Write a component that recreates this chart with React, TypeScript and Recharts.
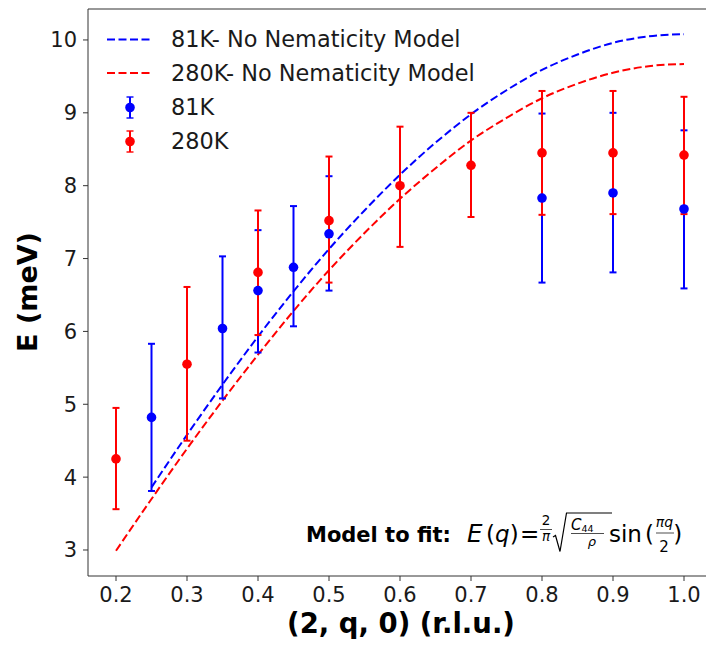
import React from 'react'
import { ComposedChart, Line, Scatter, ErrorBar, XAxis, YAxis, ReferenceLine } from 'recharts'

// model curves (no nematicity)
const model81Q = [0.25, 0.3, 0.35, 0.4, 0.45, 0.5, 0.55, 0.6, 0.65, 0.7, 0.75, 0.8, 0.85, 0.9, 0.95, 1.0]
const model81E = [3.86, 4.58, 5.27, 5.93, 6.55, 7.13, 7.66, 8.15, 8.59, 8.98, 9.31, 9.59, 9.8, 9.96, 10.05, 10.08]
const model280Q = [0.2, 0.25, 0.3, 0.35, 0.4, 0.45, 0.5, 0.55, 0.6, 0.65, 0.7, 0.75, 0.8, 0.85, 0.9, 0.95, 1.0]
const model280E = [2.99, 3.7, 4.39, 5.05, 5.68, 6.28, 6.84, 7.35, 7.82, 8.24, 8.62, 8.93, 9.2, 9.4, 9.55, 9.64, 9.67]

// measured points with error bounds
const pts81Q = [0.25, 0.35, 0.4, 0.45, 0.5, 0.8, 0.9, 1.0]
const pts81E = [4.82, 6.04, 6.56, 6.88, 7.34, 7.83, 7.9, 7.68]
const pts81Lo = [3.81, 5.08, 5.71, 6.07, 6.56, 6.67, 6.81, 6.59]
const pts81Hi = [5.83, 7.03, 7.39, 7.72, 8.13, 8.99, 9.0, 8.76]

const pts280Q = [0.2, 0.3, 0.4, 0.5, 0.6, 0.7, 0.8, 0.9, 1.0]
const pts280E = [4.25, 5.55, 6.81, 7.52, 8.0, 8.28, 8.45, 8.45, 8.42]
const pts280Lo = [3.56, 4.5, 5.95, 6.67, 7.16, 7.57, 7.6, 7.61, 7.61]
const pts280Hi = [4.95, 6.61, 7.66, 8.4, 8.81, 9.0, 9.3, 9.3, 9.22]

const xTicks = [0.2, 0.3, 0.4, 0.5, 0.6, 0.7, 0.8, 0.9, 1.0]
const yTicks = [3, 4, 5, 6, 7, 8, 9, 10]

const X_DOMAIN = [0.160563, 1.040845]
const Y_DOMAIN = [2.643, 10.425]
const FONT = 'DejaVu Sans'
const BLUE = '#0000ff'
const RED = '#ff0000'
const AXIS = '#333333'

const curve = (qs: number[], es: number[]) => qs.map((q, i) => ({ q, E: es[i] }))
const points = (qs: number[], es: number[], lo: number[], hi: number[]) =>
    qs.map((q, i) => ({ q, E: es[i], err: [es[i] - lo[i], hi[i] - es[i]] }))

const model81 = curve(model81Q, model81E)
const model280 = curve(model280Q, model280E)
const data81 = points(pts81Q, pts81E, pts81Lo, pts81Hi)
const data280 = points(pts280Q, pts280E, pts280Lo, pts280Hi)

const dot = (color: string) => (p: any) => <circle cx={p.cx} cy={p.cy} r={4.8} fill={color} />

const LegendMarker = ({ y, color }: { y: number; color: string }) => (
    <g stroke={color}>
        <line x1={130} x2={130} y1={y - 10.5} y2={y + 10.5} strokeWidth={2} />
        <line x1={126.5} x2={133.5} y1={y - 10.5} y2={y - 10.5} strokeWidth={1.4} />
        <line x1={126.5} x2={133.5} y1={y + 10.5} y2={y + 10.5} strokeWidth={1.4} />
        <circle cx={130} cy={y} r={4.8} fill={color} stroke="none" />
    </g>
)

const Overlay = () => (
    <svg width={706} height={645} style={{ position: 'absolute', left: 0, top: 0, pointerEvents: 'none' }} fontFamily={FONT}>
        {/* legend */}
        <line x1={107} x2={150} y1={39.5} y2={39.5} stroke={BLUE} strokeWidth={2} strokeDasharray="8 3.5" />
        <text x={171} y={47} fontSize={22.4} fill="#1a1a1a">81K- No Nematicity Model</text>
        <line x1={107} x2={150} y1={73} y2={73} stroke={RED} strokeWidth={2} strokeDasharray="8 3.5" />
        <text x={171} y={81} fontSize={22.4} fill="#1a1a1a">280K- No Nematicity Model</text>
        <LegendMarker y={107.5} color={BLUE} />
        <text x={171} y={115} fontSize={22.4} fill="#1a1a1a">81K</text>
        <LegendMarker y={141.5} color={RED} />
        <text x={171} y={149} fontSize={22.4} fill="#1a1a1a">280K</text>

        {/* axis titles */}
        <text x={401} y={633} fontSize={27.5} fontWeight="bold" textAnchor="middle" fill="#000">(2, q, 0) (r.l.u.)</text>
        <text x={0} y={0} fontSize={27} fontWeight="bold" textAnchor="middle" fill="#000" transform="translate(37,292) rotate(-90)">E (meV)</text>

        {/* model formula */}
        <g fill="#000">
            <text x={306} y={542} fontSize={21} fontWeight="bold">Model to fit:</text>
            <text x={467} y={542} fontSize={24.5} fontStyle="italic">E</text>
            <text x={486} y={542} fontSize={23}>(</text>
            <text x={495} y={542} fontSize={23} fontStyle="italic">q</text>
            <text x={509.8} y={542} fontSize={23}>)</text>
            <text x={520} y={542} fontSize={23}>=</text>
            <text x={546} y={525} fontSize={13.5} textAnchor="middle">2</text>
            <line x1={540} x2={552} y1={529.5} y2={529.5} stroke="#000" strokeWidth={0.7} />
            <text x={546} y={541} fontSize={13.5} textAnchor="middle" fontStyle="italic">π</text>
            <path d="M553,537 L555.5,535.5 L560,551.5 L566.5,513 L612,513" fill="none" stroke="#000" strokeWidth={1.2} />
            <text x={571} y={529.5} fontSize={15} fontStyle="italic">C</text>
            <text x={581.5} y={531.5} fontSize={9.5}>44</text>
            <line x1={571} x2={604} y1={533.5} y2={533.5} stroke="#000" strokeWidth={0.7} />
            <text x={592} y={546} fontSize={13} textAnchor="middle" fontStyle="italic">ρ</text>
            <text x={609} y={542} fontSize={23}>sin</text>
            <text x={645} y={542} fontSize={23}>(</text>
            <text x={664.5} y={527} fontSize={14} textAnchor="middle" fontStyle="italic">πq</text>
            <line x1={656} x2={674} y1={533} y2={533} stroke="#000" strokeWidth={0.7} />
            <text x={664} y={551.5} fontSize={15} textAnchor="middle">2</text>
            <text x={673.3} y={542} fontSize={23}>)</text>
        </g>
    </svg>
)

const App = () => {
    return (
        <div style={{ position: 'absolute', left: 0, top: 0, width: 706, height: 645, overflow: 'hidden', background: '#fff' }}>
            <ComposedChart width={730} height={645} margin={{ top: 9, right: 17, bottom: 0, left: 0 }}>
                <XAxis
                    type="number"
                    dataKey="q"
                    domain={X_DOMAIN}
                    ticks={xTicks}
                    allowDataOverflow
                    height={69}
                    stroke={AXIS}
                    tickSize={5}
                    tickMargin={6}
                    tickFormatter={(v: number) => v.toFixed(1)}
                    tick={{ fill: '#1a1a1a', fontSize: 21, fontFamily: FONT }}
                />
                <YAxis
                    type="number"
                    domain={Y_DOMAIN}
                    ticks={yTicks}
                    allowDataOverflow
                    width={88}
                    stroke={AXIS}
                    tickSize={5}
                    tickMargin={6}
                    tick={{ fill: '#1a1a1a', fontSize: 21, fontFamily: FONT }}
                />
                <ReferenceLine y={Y_DOMAIN[1]} stroke={AXIS} strokeWidth={1.2} />
                <Line data={model81} dataKey="E" type="monotone" stroke={BLUE} strokeWidth={2} strokeDasharray="8 3.5" dot={false} isAnimationActive={false} />
                <Line data={model280} dataKey="E" type="monotone" stroke={RED} strokeWidth={2} strokeDasharray="8 3.5" dot={false} isAnimationActive={false} />
                <Scatter data={data81} dataKey="E" fill={BLUE} shape={dot(BLUE)} isAnimationActive={false}>
                    <ErrorBar dataKey="err" direction="y" width={3.5} stroke={BLUE} strokeWidth={2} />
                </Scatter>
                <Scatter data={data280} dataKey="E" fill={RED} shape={dot(RED)} isAnimationActive={false}>
                    <ErrorBar dataKey="err" direction="y" width={3.5} stroke={RED} strokeWidth={2} />
                </Scatter>
            </ComposedChart>
            <Overlay />
        </div>
    )
}

export default App
